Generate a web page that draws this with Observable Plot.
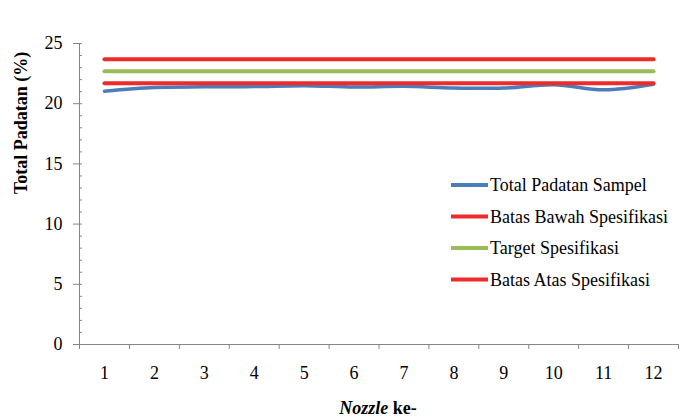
<!DOCTYPE html>
<html>
<head>
<meta charset="utf-8">
<script src="https://cdn.jsdelivr.net/npm/d3@7"></script>
<script src="https://cdn.jsdelivr.net/npm/@observablehq/plot@0.6"></script>
<style>
  html, body { margin: 0; padding: 0; background: #fff; }
  #chart { width: 680px; height: 420px; }
  #chart svg, #chart svg text { font-family: "Liberation Serif", "Times New Roman", Times, "DejaVu Serif", serif !important; }
</style>
</head>
<body>
<div id="chart"></div>
<script>
const nozzle = [1, 2, 3, 4, 5, 6, 7, 8, 9, 10, 11, 12];
const totalPadatanSampel = [21.04, 21.35, 21.4, 21.42, 21.5, 21.38, 21.45, 21.3, 21.3, 21.58, 21.15, 21.62];
const batasBawah = [21.7, 21.7, 21.7, 21.7, 21.7, 21.7, 21.7, 21.7, 21.7, 21.7, 21.7, 21.7];
const target = [22.7, 22.7, 22.7, 22.7, 22.7, 22.7, 22.7, 22.7, 22.7, 22.7, 22.7, 22.7];
const batasAtas = [23.7, 23.7, 23.7, 23.7, 23.7, 23.7, 23.7, 23.7, 23.7, 23.7, 23.7, 23.7];
const yMajorTicks = [0, 5, 10, 15, 20, 25];
const yMinorTicks = d3.range(0, 26);
const xBoundaryTicks = [0.5, 1.5, 2.5, 3.5, 4.5, 5.5, 6.5, 7.5, 8.5, 9.5, 10.5, 11.5, 12.5];
const seriesNames = ["Total Padatan Sampel", "Batas Bawah Spesifikasi", "Target Spesifikasi", "Batas Atas Spesifikasi"];
const seriesColors = ["#4a7ebb", "#ee2b2b", "#9bbb59", "#ee2b2b"];
const yTitle = "Total Padatan (%)";

const axisColor = "#868686";

function rows(values) { return nozzle.map((n, i) => ({x: n, y: values[i]})); }

const plot = Plot.plot({
  width: 680,
  height: 420,
  marginLeft: 79,
  marginRight: 2,
  marginTop: 43,
  marginBottom: 76,
  style: {fontSize: "18px", color: "#000", background: "#fff"},
  x: {domain: [0.5, 12.5], axis: null},
  y: {domain: [0, 25], axis: null},
  marks: [
    Plot.ruleX([0.5], {y1: 0, y2: 25, stroke: axisColor, strokeWidth: 1}),
    Plot.ruleY([0], {stroke: axisColor, strokeWidth: 1}),
    Plot.axisY({ticks: yMinorTicks, tickSize: -3, text: null, label: null, stroke: axisColor}),
    Plot.axisY({ticks: yMajorTicks, tickSize: 6, tickPadding: 11, stroke: axisColor, fill: "#000", label: null, fontSize: 18}),
    Plot.axisX({ticks: xBoundaryTicks, tickSize: 5, text: null, label: null, stroke: axisColor}),
    Plot.axisX({ticks: nozzle, tickSize: 0, tickPadding: 22, fill: "#000", label: null, fontSize: 18}),
    Plot.line(rows(totalPadatanSampel), {x: "x", y: "y", stroke: seriesColors[0], strokeWidth: 3.5, strokeLinecap: "round", curve: "catmull-rom"}),
    Plot.line(rows(batasBawah), {x: "x", y: "y", stroke: seriesColors[1], strokeWidth: 4, strokeLinecap: "round"}),
    Plot.line(rows(target), {x: "x", y: "y", stroke: seriesColors[2], strokeWidth: 4, strokeLinecap: "round"}),
    Plot.line(rows(batasAtas), {x: "x", y: "y", stroke: seriesColors[3], strokeWidth: 4, strokeLinecap: "round"}),
    Plot.text([yTitle], {frameAnchor: "left", dx: -58, rotate: -90, fontWeight: "bold", fontSize: 18, fill: "#000"})
  ]
});

const svg = d3.select(plot);
// x-axis title with italic "Nozzle"
const xt = svg.append("text")
  .attr("x", 378).attr("y", 414)
  .attr("text-anchor", "middle")
  .style("font-size", "18px").style("font-weight", "bold").attr("fill", "#000");
xt.append("tspan").style("font-style", "italic").text("Nozzle");
xt.append("tspan").text(" ke-");

// legend
const legendY = [185, 216.5, 248, 279.5];
const lg = svg.append("g").attr("text-anchor", "start");
seriesNames.forEach((name, i) => {
  lg.append("line").attr("x1", 451).attr("x2", 488).attr("y1", legendY[i]).attr("y2", legendY[i])
    .attr("stroke", seriesColors[i]).attr("stroke-width", 4);
  lg.append("text").attr("x", 490).attr("y", legendY[i]).attr("dy", "0.35em")
    .attr("text-anchor", "start")
    .style("font-size", "18px").attr("fill", "#000").text(name);
});

document.getElementById("chart").appendChild(plot);
</script>
</body>
</html>
